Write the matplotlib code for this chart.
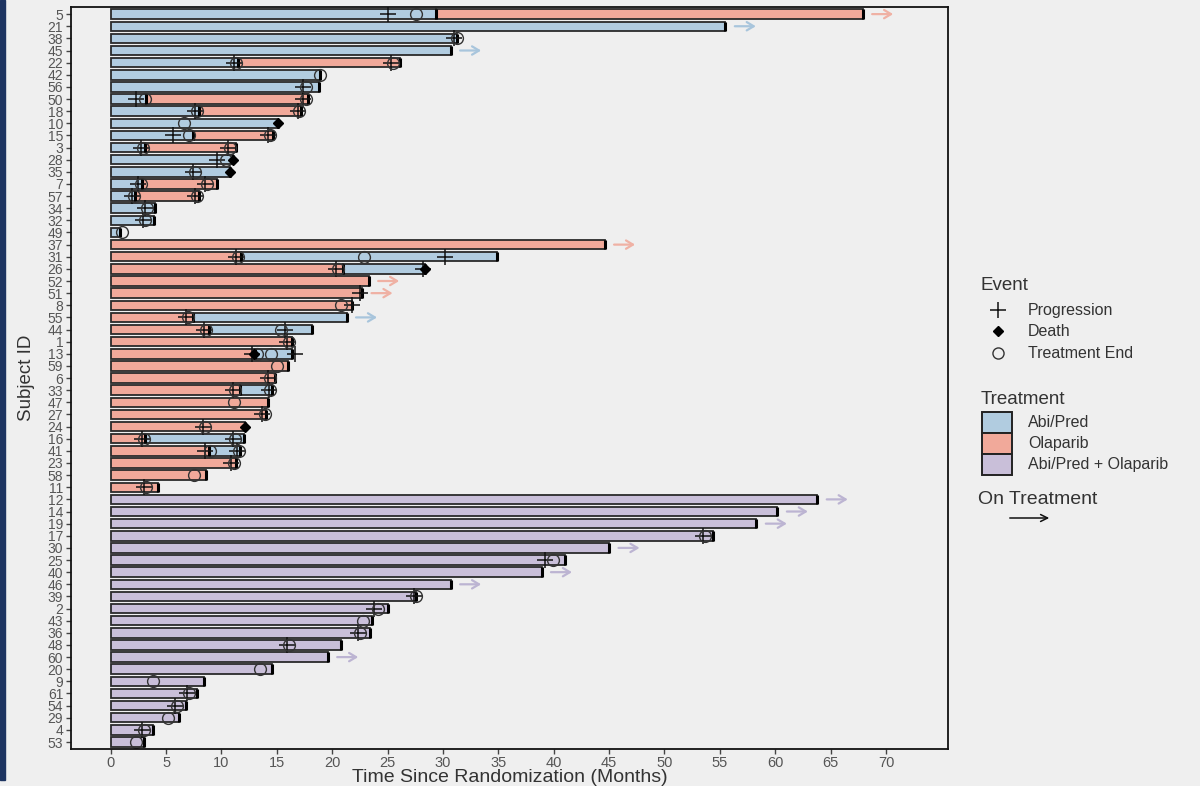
import matplotlib.pyplot as plt
from matplotlib.patches import Rectangle

plt.rcParams['font.family'] = ['Liberation Sans', 'DejaVu Sans']

# subjects, top to bottom
subject_ids = [5, 21, 38, 45, 22, 42, 56, 50, 18, 10, 15, 3, 28, 35, 7, 57, 34, 32, 49,
               37, 31, 26, 52, 51, 8, 55, 44, 1, 13, 59, 6, 33, 47, 27, 24, 16, 41, 23, 58, 11,
               12, 14, 19, 17, 30, 25, 40, 46, 39, 2, 43, 36, 48, 60, 20, 9, 61, 54, 29, 4, 53]

first_trt = ['Abi/Pred'] * 19 + ['Olaparib'] * 21 + ['Abi/Pred + Olaparib'] * 21

# time of switch to the other single agent (None = no switch)
switch_time = [29.4, None, None, None, 11.5, None, None, 3.2, 8.0, None, 7.4, 3.1, None, None, 2.8, 2.2, None, None, None,
               None, 11.8, 21.0, None, None, None, 7.4, 8.9, None, 13.0, None, None, 11.7, None, None, None, 3.1, 8.9, None, None, None,
               None, None, None, None, None, None, None, None, None, None, None, None, None, None, None, None, None, None, None, None, None]

end_time = [67.9, 55.5, 31.3, 30.7, 26.1, 18.9, 18.8, 17.8, 17.2, 15.1, 14.7, 11.3, 11.0, 10.8, 9.6, 8.0, 4.0, 3.9, 0.8,
            44.6, 34.9, 28.4, 23.3, 22.7, 21.8, 21.3, 18.2, 16.4, 16.4, 16.0, 14.8, 14.6, 14.2, 14.0, 12.1, 12.0, 11.7, 11.3, 8.6, 4.3,
            63.8, 60.2, 58.3, 54.4, 45.0, 41.0, 38.9, 30.7, 27.6, 25.0, 23.6, 23.4, 20.8, 19.6, 14.6, 8.4, 7.8, 6.8, 6.2, 3.8, 3.0]

ongoing_ids = [5, 21, 45, 37, 52, 51, 55, 12, 14, 19, 30, 40, 46, 60]

# events
prog_ids = [5, 38, 22, 22, 56, 50, 50, 18, 18, 15, 15, 3, 3, 28, 35, 7, 7, 57, 57, 34, 32,
            31, 31, 26, 26, 51, 8, 55, 44, 44, 1, 13, 13, 6, 33, 33, 27, 24, 16, 16, 41, 41, 23, 11,
            17, 25, 39, 2, 36, 48, 61, 54, 4]
prog_times = [25.0, 31.0, 11.1, 25.3, 17.4, 2.3, 17.4, 7.6, 16.9, 5.6, 14.2, 2.7, 10.6, 9.6, 7.4, 2.5, 8.5, 1.9, 7.6, 3.1, 2.9,
              11.3, 30.2, 20.3, 28.2, 22.5, 21.8, 6.8, 8.4, 15.7, 15.9, 12.8, 16.6, 14.2, 11.0, 14.3, 13.7, 8.3, 2.8, 11.0, 8.5, 11.4, 10.9, 3.0,
              53.5, 39.2, 27.4, 23.8, 22.3, 15.9, 6.9, 5.8, 2.8]

tend_ids = [5, 38, 22, 22, 42, 56, 50, 50, 18, 18, 10, 15, 15, 3, 3, 28, 35, 7, 7, 57, 57, 34, 32, 49,
            31, 31, 26, 8, 55, 44, 44, 1, 13, 13, 59, 6, 33, 33, 47, 27, 24, 16, 16, 41, 41, 23, 58, 11,
            17, 25, 39, 2, 43, 36, 48, 20, 9, 61, 54, 29, 4, 53]
tend_times = [27.6, 31.3, 11.3, 25.5, 18.9, 17.6, 3.1, 17.6, 7.8, 17.0, 6.6, 7.1, 14.4, 2.9, 10.8, 10.4, 7.6, 2.7, 8.7, 2.1, 7.8, 3.3, 3.1, 1.0,
              11.5, 22.9, 20.5, 20.8, 7.0, 8.6, 15.4, 16.1, 13.2, 14.5, 15.0, 14.4, 11.2, 14.4, 11.1, 13.9, 8.5, 3.0, 11.2, 9.0, 11.6, 11.1, 7.5, 3.2,
              53.7, 39.9, 27.6, 24.1, 22.8, 22.5, 16.1, 13.5, 3.8, 7.1, 6.0, 5.2, 3.0, 2.3]

death_ids = [10, 28, 35, 26, 13, 24]
death_times = [15.1, 11.0, 10.8, 28.4, 12.9, 12.1]

trt_colors = {'Abi/Pred': '#b1cce0', 'Olaparib': '#f1a99a', 'Abi/Pred + Olaparib': '#c9bfd9'}
arrow_colors = {'Abi/Pred': '#a8c5dc', 'Olaparib': '#efb1a4', 'Abi/Pred + Olaparib': '#bcb4d2'}
other_trt = {'Abi/Pred': 'Olaparib', 'Olaparib': 'Abi/Pred'}

bg = '#efefef'
fig = plt.figure(figsize=(12, 7.86), dpi=100, facecolor=bg)
ax = fig.add_axes([0.059, 0.047, 0.731, 0.944])
ax.set_facecolor(bg)

row = {sid: i for i, sid in enumerate(subject_ids)}
h = 0.78

for i, sid in enumerate(subject_ids):
    t1 = first_trt[i]
    sw = switch_time[i]
    end = end_time[i]
    if sw is None:
        segs = [(0, end, t1)]
    else:
        segs = [(0, sw, t1), (sw, end, other_trt[t1])]
    for a, b, t in segs:
        ax.barh(i, b - a, left=a, height=h, color=trt_colors[t], edgecolor='#2a2a2a', linewidth=1.3)
        ax.vlines(b, i - h / 2, i + h / 2, color='black', linewidth=2.2)
    if sid in ongoing_ids:
        last = segs[-1][2]
        ax.annotate('', xy=(end + 3.0, i), xytext=(end + 0.6, i),
                    arrowprops=dict(arrowstyle='->, head_length=0.5, head_width=0.3',
                                    color=arrow_colors[last], lw=1.6))

ax.plot(prog_times, [row[s] for s in prog_ids], '+', color='#111111', markersize=11, mew=1.1, linestyle='none')
ax.plot(tend_times, [row[s] for s in tend_ids], 'o', markerfacecolor='none', markeredgecolor='#333333',
        markersize=8.5, mew=1.0, linestyle='none')
ax.plot(death_times, [row[s] for s in death_ids], 'D', color='black', markersize=5, linestyle='none')

ax.set_xlim(-3.6, 75.6)
ax.set_ylim(len(subject_ids) - 1 + 0.58, -0.58)
ax.set_xticks(range(0, 75, 5))
ax.set_yticks(range(len(subject_ids)))
ax.set_yticklabels([str(s) for s in subject_ids])
ax.tick_params(axis='both', colors='#444444', labelcolor='#555555', length=3.5, width=1)
ax.tick_params(axis='y', labelsize=10, pad=2)
ax.tick_params(axis='x', labelsize=10.5, pad=1.5)
for sp in ax.spines.values():
    sp.set_color('#111111')
    sp.set_linewidth(1.3)
ax.set_xlabel('Time Since Randomization (Months)', fontsize=14, color='#333333', labelpad=-1)
ax.set_ylabel('Subject ID', fontsize=13.5, color='#333333', labelpad=9)

# legend drawn in pixel coordinates
lg = fig.add_axes([0, 0, 1, 1], facecolor='none')
lg.set_xlim(0, 1200)
lg.set_ylim(786, 0)
lg.axis('off')
lg.add_patch(Rectangle((0, 0), 5, 780, color='#1d3461'))

txt = dict(color='#333333', va='center', ha='left')
lg.text(981, 286, 'Event', fontsize=13.5, **txt)
lg.plot([998], [310], '+', color='#111111', markersize=12, mew=1.1)
lg.plot([998], [331], 'D', color='black', markersize=5)
lg.plot([998], [353], 'o', markerfacecolor='none', markeredgecolor='#333333', markersize=8, mew=1.0)
lg.text(1028, 310, 'Progression', fontsize=11.5, **txt)
lg.text(1028, 331, 'Death', fontsize=11.5, **txt)
lg.text(1028, 353, 'Treatment End', fontsize=11.5, **txt)

lg.text(981, 399, 'Treatment', fontsize=13.5, **txt)
for k, t in enumerate(['Abi/Pred', 'Olaparib', 'Abi/Pred + Olaparib']):
    y0 = 412 + k * 21
    lg.add_patch(Rectangle((982, y0), 30, 21, facecolor=trt_colors[t], edgecolor='#222222', linewidth=1.4))
    lg.text(1028, y0 + 10.5, t, fontsize=11.5, **txt)

lg.text(978, 500, 'On Treatment', fontsize=14, **txt)
lg.annotate('', xy=(1052, 518), xytext=(1007, 518),
            arrowprops=dict(arrowstyle='->, head_length=0.5, head_width=0.25', color='#111111', lw=1.1))

fig.savefig('out.png', dpi=100, facecolor=bg)
